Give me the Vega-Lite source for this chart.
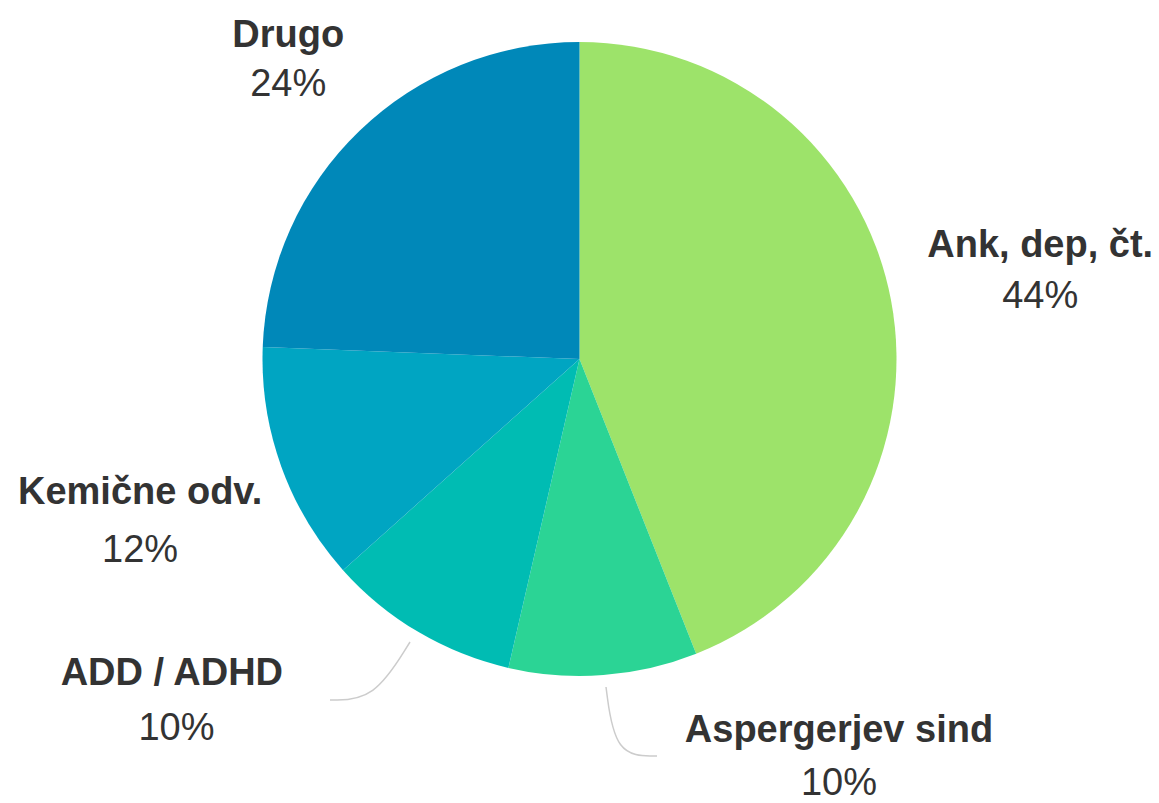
{
  "$schema": "https://vega.github.io/schema/vega-lite/v6.json",
  "autosize": "none",
  "width": 1159,
  "height": 718,
  "padding": {"left": 0, "top": 0, "right": 0, "bottom": 85},
  "background": "white",
  "config": {"view": {"stroke": null}},
  "data": {
    "values": [
      {"idx": 1, "label": "Ank, dep, čt.", "value": 0.440},
      {"idx": 2, "label": "Aspergerjev sind", "value": 0.096},
      {"idx": 3, "label": "ADD / ADHD", "value": 0.098},
      {"idx": 4, "label": "Kemične odv.", "value": 0.122},
      {"idx": 5, "label": "Drugo", "value": 0.244}
    ]
  },
  "layer": [
    {
      "mark": {"type": "arc", "outerRadius": 317},
      "encoding": {
        "theta": {"field": "value", "type": "quantitative", "stack": true},
        "order": {"field": "idx", "type": "quantitative"},
        "color": {
          "field": "label", "type": "nominal", "legend": null,
          "scale": {
            "domain": ["Ank, dep, čt.", "Aspergerjev sind", "ADD / ADHD", "Kemične odv.", "Drugo"],
            "range": ["#9de36a", "#2bd495", "#00bcb3", "#00a5c2", "#0088b9"]
          }
        }
      }
    },
    {
      "data": {
        "values": [
          {"line": "a", "o": 1, "u": -0.5347, "v": -0.8927},
          {"line": "a", "o": 2, "u": -0.6483, "v": -1.0757},
          {"line": "a", "o": 3, "u": -0.7871, "v": -1.0757},
          {"line": "b", "o": 1, "u": 0.0836, "v": -1.0347},
          {"line": "b", "o": 2, "u": 0.1120, "v": -1.2524},
          {"line": "b", "o": 3, "u": 0.2445, "v": -1.2524}
        ]
      },
      "mark": {"type": "line", "interpolate": "basis", "stroke": "#cccccc", "strokeWidth": 1.5},
      "encoding": {
        "x": {"field": "u", "type": "quantitative", "axis": null, "scale": {"domain": [-1.8281, 1.8281], "zero": false, "nice": false}},
        "y": {"field": "v", "type": "quantitative", "axis": null, "scale": {"domain": [-1.1325, 1.1325], "zero": false, "nice": false}},
        "detail": {"field": "line"},
        "order": {"field": "o", "type": "quantitative"}
      }
    },
    {
      "mark": {"type": "text", "radius": 420, "dx": 0, "dy": -9.7, "font": "Liberation Sans", "fontSize": 38, "fontWeight": "bold", "fill": "#333333", "align": "center", "baseline": "alphabetic"},
      "encoding": {
        "theta": {"field": "value", "type": "quantitative", "stack": true},
        "order": {"field": "idx", "type": "quantitative"},
        "detail": {"field": "label"},
        "text": {"field": "label"},
        "opacity": {"condition": {"test": "datum.label === 'Drugo'", "value": 1}, "value": 0}
      }
    },
    {
      "mark": {"type": "text", "radius": 420, "dx": 0, "dy": 39.6, "font": "Liberation Sans", "fontSize": 38, "fill": "#333333", "align": "center", "baseline": "alphabetic"},
      "encoding": {
        "theta": {"field": "value", "type": "quantitative", "stack": true},
        "order": {"field": "idx", "type": "quantitative"},
        "detail": {"field": "label"},
        "text": {"field": "value", "type": "quantitative", "format": ".0%"},
        "opacity": {"condition": {"test": "datum.label === 'Drugo'", "value": 1}, "value": 0}
      }
    },
    {
      "mark": {"type": "text", "radius": 468, "dx": 1, "dy": -14.6, "font": "Liberation Sans", "fontSize": 38, "fontWeight": "bold", "fill": "#333333", "align": "center", "baseline": "alphabetic"},
      "encoding": {
        "theta": {"field": "value", "type": "quantitative", "stack": true},
        "order": {"field": "idx", "type": "quantitative"},
        "detail": {"field": "label"},
        "text": {"field": "label"},
        "opacity": {"condition": {"test": "datum.label === 'Ank, dep, čt.'", "value": 1}, "value": 0}
      }
    },
    {
      "mark": {"type": "text", "radius": 468, "dx": 1, "dy": 36.7, "font": "Liberation Sans", "fontSize": 38, "fill": "#333333", "align": "center", "baseline": "alphabetic"},
      "encoding": {
        "theta": {"field": "value", "type": "quantitative", "stack": true},
        "order": {"field": "idx", "type": "quantitative"},
        "detail": {"field": "label"},
        "text": {"field": "value", "type": "quantitative", "format": ".0%"},
        "opacity": {"condition": {"test": "datum.label === 'Ank, dep, čt.'", "value": 1}, "value": 0}
      }
    },
    {
      "mark": {"type": "text", "radius": 467, "dx": 0, "dy": -12.9, "font": "Liberation Sans", "fontSize": 38, "fontWeight": "bold", "fill": "#333333", "align": "center", "baseline": "alphabetic"},
      "encoding": {
        "theta": {"field": "value", "type": "quantitative", "stack": true},
        "order": {"field": "idx", "type": "quantitative"},
        "detail": {"field": "label"},
        "text": {"field": "label"},
        "opacity": {"condition": {"test": "datum.label === 'Kemične odv.'", "value": 1}, "value": 0}
      }
    },
    {
      "mark": {"type": "text", "radius": 467, "dx": 0, "dy": 44.5, "font": "Liberation Sans", "fontSize": 38, "fill": "#333333", "align": "center", "baseline": "alphabetic"},
      "encoding": {
        "theta": {"field": "value", "type": "quantitative", "stack": true},
        "order": {"field": "idx", "type": "quantitative"},
        "detail": {"field": "label"},
        "text": {"field": "value", "type": "quantitative", "format": ".0%"},
        "opacity": {"condition": {"test": "datum.label === 'Kemične odv.'", "value": 1}, "value": 0}
      }
    },
    {
      "mark": {"type": "text", "radius": 404, "dx": -202, "dy": -21.7, "font": "Liberation Sans", "fontSize": 38, "fontWeight": "bold", "fill": "#333333", "align": "center", "baseline": "alphabetic"},
      "encoding": {
        "theta": {"field": "value", "type": "quantitative", "stack": true},
        "order": {"field": "idx", "type": "quantitative"},
        "detail": {"field": "label"},
        "text": {"field": "label"},
        "opacity": {"condition": {"test": "datum.label === 'ADD / ADHD'", "value": 1}, "value": 0}
      }
    },
    {
      "mark": {"type": "text", "radius": 404, "dx": -197.4, "dy": 33.3, "font": "Liberation Sans", "fontSize": 38, "fill": "#333333", "align": "center", "baseline": "alphabetic"},
      "encoding": {
        "theta": {"field": "value", "type": "quantitative", "stack": true},
        "order": {"field": "idx", "type": "quantitative"},
        "detail": {"field": "label"},
        "text": {"field": "value", "type": "quantitative", "format": ".0%"},
        "opacity": {"condition": {"test": "datum.label === 'ADD / ADHD'", "value": 1}, "value": 0}
      }
    },
    {
      "mark": {"type": "text", "radius": 397, "dx": 229.6, "dy": -13.2, "font": "Liberation Sans", "fontSize": 38, "fontWeight": "bold", "fill": "#333333", "align": "center", "baseline": "alphabetic"},
      "encoding": {
        "theta": {"field": "value", "type": "quantitative", "stack": true},
        "order": {"field": "idx", "type": "quantitative"},
        "detail": {"field": "label"},
        "text": {"field": "label"},
        "opacity": {"condition": {"test": "datum.label === 'Aspergerjev sind'", "value": 1}, "value": 0}
      }
    },
    {
      "mark": {"type": "text", "radius": 397, "dx": 229.6, "dy": 40.1, "font": "Liberation Sans", "fontSize": 38, "fill": "#333333", "align": "center", "baseline": "alphabetic"},
      "encoding": {
        "theta": {"field": "value", "type": "quantitative", "stack": true},
        "order": {"field": "idx", "type": "quantitative"},
        "detail": {"field": "label"},
        "text": {"field": "value", "type": "quantitative", "format": ".0%"},
        "opacity": {"condition": {"test": "datum.label === 'Aspergerjev sind'", "value": 1}, "value": 0}
      }
    }
  ]
}
